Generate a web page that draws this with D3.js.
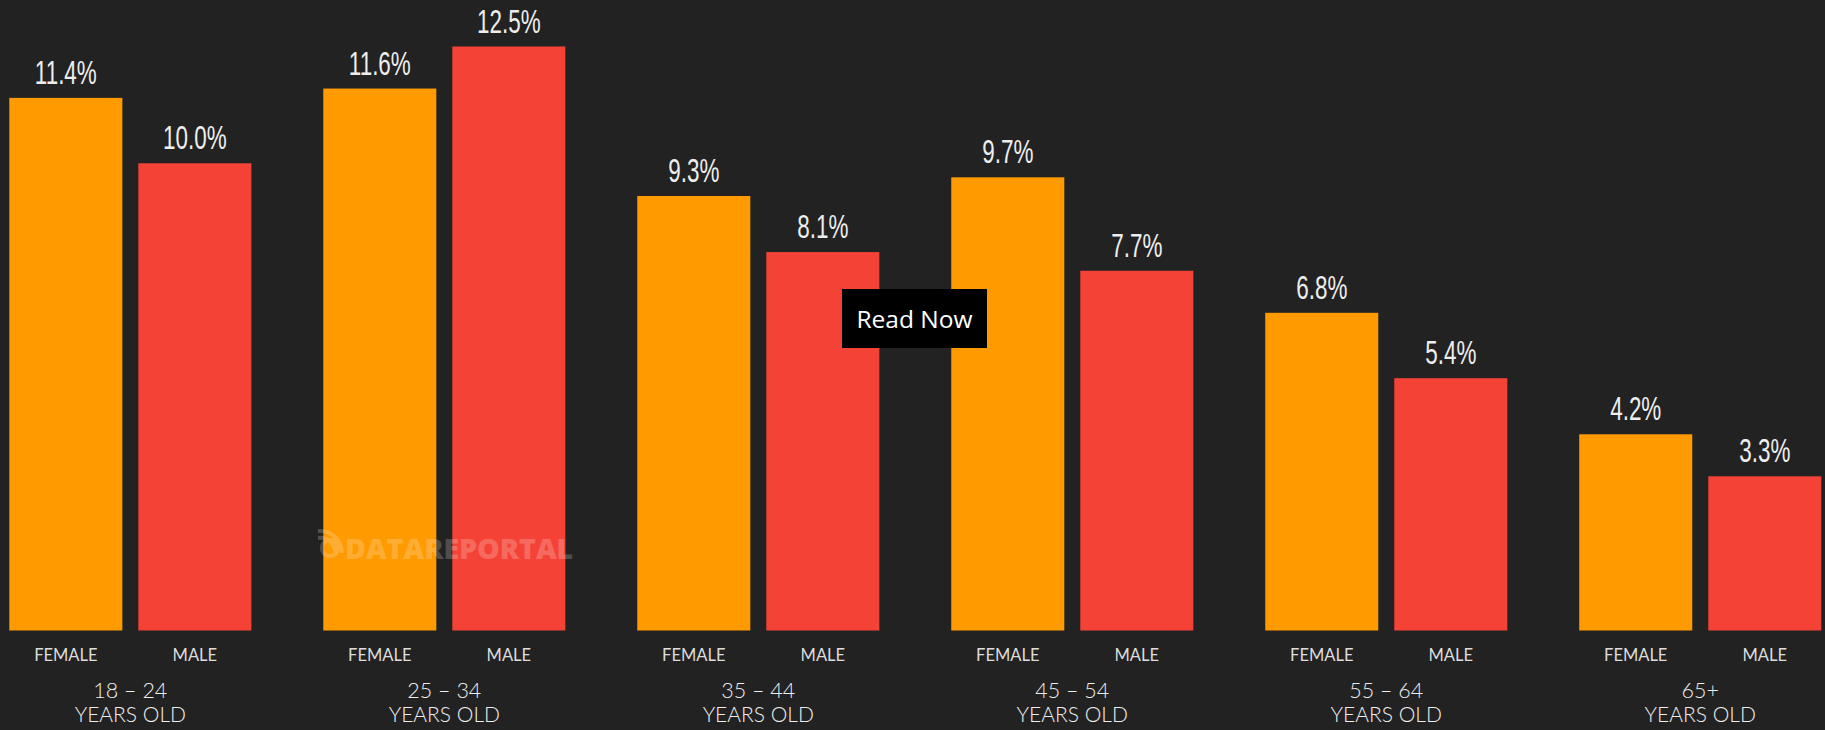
<!DOCTYPE html>
<html>
<head>
<meta charset="utf-8">
<script src="https://cdn.jsdelivr.net/npm/d3@7/dist/d3.min.js"></script>
<style>
  html, body { margin: 0; padding: 0; background: #222222; }
  svg { display: block; }
</style>
</head>
<body>
<svg id="chart" width="1825" height="730"></svg>
<script>
const ageGroups = ["18 – 24", "25 – 34", "35 – 44", "45 – 54", "55 – 64", "65+"];
const sexes = ["FEMALE", "MALE"];
const femaleValues = [11.4, 11.6, 9.3, 9.7, 6.8, 4.2];
const maleValues = [10.0, 12.5, 8.1, 7.7, 5.4, 3.3];
const subLabel = "YEARS OLD";
const colors = { FEMALE: "#FF9A00", MALE: "#F44336" };

const W = 1825, H = 730;
const svg = d3.select("#chart");
svg.append("rect").attr("width", W).attr("height", H).attr("fill", "#222222");

const x0 = d3.scaleBand().domain(ageGroups).range([9.3, 1821.3]).paddingInner(0.229).paddingOuter(0);
const x1 = d3.scaleBand().domain(sexes).range([0, x0.bandwidth()]).paddingInner(0.124).paddingOuter(0);
const y = d3.scaleLinear().domain([0, 12.5]).range([630.5, 46.5]);

const data = ageGroups.map((g, i) => ({
  group: g,
  values: [{ sex: "FEMALE", v: femaleValues[i] }, { sex: "MALE", v: maleValues[i] }]
}));

const groups = svg.selectAll("g.grp").data(data).join("g")
  .attr("class", "grp")
  .attr("transform", d => `translate(${x0(d.group)},0)`);

groups.selectAll("rect.bar").data(d => d.values).join("rect")
  .attr("class", "bar")
  .attr("x", d => x1(d.sex))
  .attr("y", d => y(d.v))
  .attr("width", x1.bandwidth())
  .attr("height", d => y(0) - y(d.v))
  .attr("fill", d => colors[d.sex]);

groups.selectAll("text.val").data(d => d.values).join("text")
  .attr("class", "val")
  .attr("transform", d => `translate(${x1(d.sex) + x1.bandwidth() / 2},${y(d.v) - 14}) scale(0.66,1)`)
  .attr("text-anchor", "middle")
  .attr("font-family", "'Liberation Sans Narrow', 'Liberation Sans', sans-serif")
  .attr("font-size", 34)
  .attr("fill", "#eeeeee")
  .text(d => d.v.toFixed(1) + "%");

groups.selectAll("text.sex").data(d => d.values).join("text")
  .attr("class", "sex")
  .attr("x", d => x1(d.sex) + x1.bandwidth() / 2)
  .attr("y", 661)
  .attr("text-anchor", "middle")
  .attr("font-family", "Lato, 'Open Sans', sans-serif")
  .attr("font-size", 16.5)
  .attr("fill", "#dddddd")
  .text(d => d.sex);

groups.append("text")
  .attr("x", x0.bandwidth() / 2)
  .attr("y", 698)
  .attr("text-anchor", "middle")
  .attr("font-family", "Lato, 'Open Sans', sans-serif")
  .attr("font-weight", 300)
  .attr("font-size", 21.5)
  .attr("fill", "#eeeeee")
  .text(d => d.group);

groups.append("text")
  .attr("x", x0.bandwidth() / 2)
  .attr("y", 722)
  .attr("text-anchor", "middle")
  .attr("font-family", "Lato, 'Open Sans', sans-serif")
  .attr("font-weight", 300)
  .attr("font-size", 21)
  .attr("fill", "#eeeeee")
  .text(subLabel);

// watermark
const wm = svg.append("g").attr("opacity", 0.2);
wm.append("text")
  .attr("x", 345).attr("y", 559)
  .attr("font-family", "'Open Sans', sans-serif")
  .attr("font-weight", 800)
  .attr("font-size", 28.5)
  .attr("fill", "#ffffff")
  .text("DATAREPORTAL");
wm.append("path")
  .attr("d", "M322,548 a8,8 0 1,1 0,0.1 M318,538 a15,15 0 0,1 17,15 M318,531 a22,22 0 0,1 24,22")
  .attr("fill", "none").attr("stroke", "#ffffff").attr("stroke-width", 4);

// Read Now box
svg.append("rect").attr("x", 842).attr("y", 289).attr("width", 145).attr("height", 59).attr("fill", "#000000");
svg.append("text")
  .attr("x", 914.5).attr("y", 328)
  .attr("text-anchor", "middle")
  .attr("font-family", "'Open Sans', sans-serif")
  .attr("font-size", 24.5)
  .attr("fill", "#ffffff")
  .text("Read Now");
</script>
</body>
</html>
